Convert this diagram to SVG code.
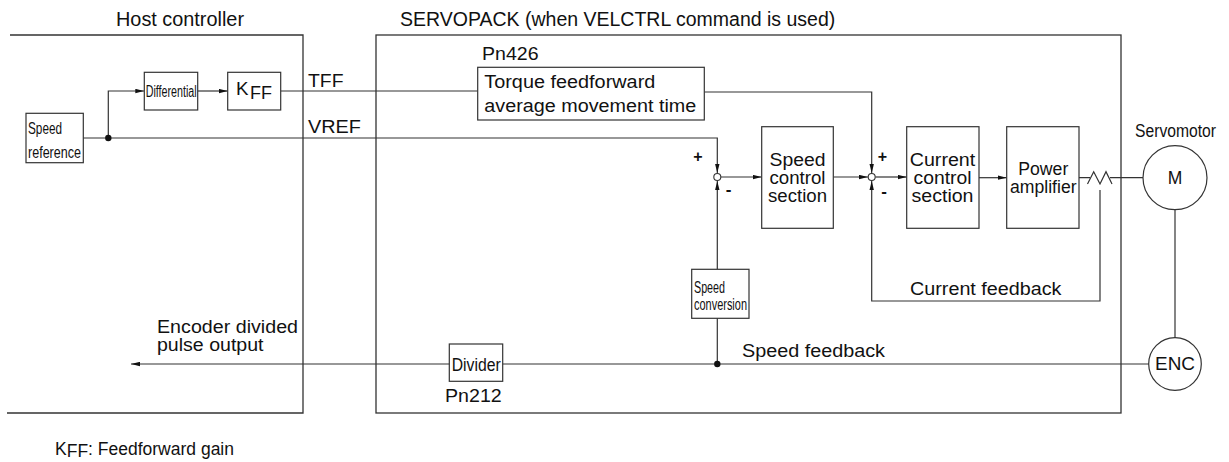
<svg xmlns="http://www.w3.org/2000/svg" width="1229" height="462" viewBox="0 0 1229 462">
<style>
.ln{fill:none;stroke:#333;stroke-width:1.2}
.bx{fill:#fff;stroke:#333;stroke-width:1.2}
.fr{fill:none;stroke:#333;stroke-width:1.3}
.jn{fill:#fff;stroke:#333;stroke-width:1.1}
.dot{fill:#111}
text{font-family:"Liberation Sans",Arial,sans-serif;fill:#111}
.m{font-size:17.5px}
.ti{font-size:19.5px}
.c{font-size:17px}
</style>
<defs>
<marker id="ah" markerWidth="9" markerHeight="5" refX="9" refY="2.5" orient="auto" markerUnits="userSpaceOnUse">
<path d="M0,0.3 L9,2.5 L0,4.7 z" fill="#111"/>
</marker>
</defs>

<g id="frames">
<path class="fr" d="M10,35 H303 V413 H7"/>
<rect class="fr" x="376" y="35" width="745" height="378"/>
<text class="ti" x="116" y="26" textLength="128" lengthAdjust="spacingAndGlyphs">Host controller</text>
<text class="ti" x="400" y="26">SERVOPACK (when VELCTRL command is used)</text>
</g>

<g id="connectors">
<path class="ln" d="M83,138 H717.3 V173" marker-end="url(#ah)"/>
<path class="ln" d="M108.3,138 V91 H144.3" marker-end="url(#ah)"/>
<path class="ln" d="M197.7,91 H227.7" marker-end="url(#ah)"/>
<path class="ln" d="M280.7,91 H477.7"/>
<path class="ln" d="M704.3,92 H871.7 V173" marker-end="url(#ah)"/>
<path class="ln" d="M721,177 H761.7" marker-end="url(#ah)"/>
<path class="ln" d="M833.3,177 H868" marker-end="url(#ah)"/>
<path class="ln" d="M875.4,177 H906.7" marker-end="url(#ah)"/>
<path class="ln" d="M979,177.7 H1006.7" marker-end="url(#ah)"/>
<path class="ln" d="M1079,177.7 H1090 M1087.5,184 L1093.7,171.7 L1100,184 L1106,171.7 L1112,184 M1110,177.7 H1143"/>
<path class="ln" d="M1100,190 V301 H871.7 V181" marker-end="url(#ah)"/>
<path class="ln" d="M1175,209.7 V338"/>
<path class="ln" d="M1149,364 H131" marker-end="url(#ah)"/>
<path class="ln" d="M717.3,364 V318"/>
<path class="ln" d="M717.3,269 V181" marker-end="url(#ah)"/>
<circle class="dot" cx="108.3" cy="138" r="3.2"/>
<circle class="dot" cx="717.3" cy="364" r="3.2"/>
<text class="m" x="308" y="87" textLength="35.5" lengthAdjust="spacingAndGlyphs">TFF</text>
<text class="m" x="308" y="133" textLength="53" lengthAdjust="spacingAndGlyphs">VREF</text>
<text class="m" x="910" y="295" textLength="151.5" lengthAdjust="spacingAndGlyphs">Current feedback</text>
<text class="m" x="742" y="357" textLength="143" lengthAdjust="spacingAndGlyphs">Speed feedback</text>
<text class="m" x="157" y="333.3" textLength="141" lengthAdjust="spacingAndGlyphs">Encoder divided</text>
<text class="m" x="157" y="351" textLength="106.5" lengthAdjust="spacingAndGlyphs">pulse output</text>
</g>

<g id="junction1">
<circle class="jn" cx="717.3" cy="177" r="3.5"/>
<text x="698" y="162" font-size="16" text-anchor="middle" font-weight="bold">+</text>
<text x="728.5" y="195" font-size="17" text-anchor="middle" font-weight="bold">-</text>
</g>
<g id="junction2">
<circle class="jn" cx="871.7" cy="177" r="3.5"/>
<text x="882.5" y="162" font-size="16" text-anchor="middle" font-weight="bold">+</text>
<text x="884" y="197" font-size="17" text-anchor="middle" font-weight="bold">-</text>
</g>

<g id="speed-reference">
<rect class="bx" x="26" y="113.3" width="57.3" height="49.4"/>
<text class="c" x="28" y="134" textLength="34" lengthAdjust="spacingAndGlyphs">Speed</text>
<text class="c" x="28" y="158" textLength="53" lengthAdjust="spacingAndGlyphs">reference</text>
</g>

<g id="differential">
<rect class="bx" x="144.3" y="72.3" width="53.4" height="37.7"/>
<text x="145.7" y="96.5" font-size="16" textLength="51" lengthAdjust="spacingAndGlyphs">Differential</text>
</g>

<g id="kff">
<rect class="bx" x="227.7" y="72.3" width="53" height="37.7"/>
<text x="236" y="95" font-size="18.5" textLength="12.5" lengthAdjust="spacingAndGlyphs">K</text>
<text x="250" y="99.3" font-size="17.5" textLength="22" lengthAdjust="spacingAndGlyphs">FF</text>
</g>

<g id="torque-ff">
<text class="m" x="482" y="59.5" textLength="56.5" lengthAdjust="spacingAndGlyphs">Pn426</text>
<rect class="bx" x="477.7" y="67.3" width="226.6" height="52.7"/>
<text class="m" x="484.3" y="88.3" textLength="171" lengthAdjust="spacingAndGlyphs">Torque feedforward</text>
<text class="m" x="484.3" y="111.5" textLength="212" lengthAdjust="spacingAndGlyphs">average movement time</text>
</g>

<g id="speed-control">
<rect class="bx" x="761.7" y="126.7" width="71.6" height="101.6"/>
<text class="m" x="797.5" y="165.7" text-anchor="middle" textLength="56" lengthAdjust="spacingAndGlyphs">Speed</text>
<text class="m" x="797.5" y="183.5" text-anchor="middle" textLength="56" lengthAdjust="spacingAndGlyphs">control</text>
<text class="m" x="797.5" y="201.7" text-anchor="middle" textLength="59" lengthAdjust="spacingAndGlyphs">section</text>
</g>

<g id="current-control">
<rect class="bx" x="906.7" y="126.7" width="72.3" height="101.6"/>
<text class="m" x="942.5" y="165.7" text-anchor="middle" textLength="65.5" lengthAdjust="spacingAndGlyphs">Current</text>
<text class="m" x="942.5" y="183.5" text-anchor="middle" textLength="58" lengthAdjust="spacingAndGlyphs">control</text>
<text class="m" x="942.5" y="201.7" text-anchor="middle" textLength="62" lengthAdjust="spacingAndGlyphs">section</text>
</g>

<g id="power-amplifier">
<rect class="bx" x="1006.7" y="126.7" width="72.3" height="101.6"/>
<text class="m" x="1043.3" y="175" text-anchor="middle" textLength="50" lengthAdjust="spacingAndGlyphs">Power</text>
<text class="m" x="1043.3" y="193" text-anchor="middle" textLength="66.5" lengthAdjust="spacingAndGlyphs">amplifier</text>
</g>

<g id="servomotor">
<text x="1175.5" y="136.7" font-size="18" text-anchor="middle" textLength="81" lengthAdjust="spacingAndGlyphs">Servomotor</text>
<circle class="bx" cx="1175" cy="177.7" r="32"/>
<text class="m" x="1175" y="184.2" text-anchor="middle">M</text>
</g>

<g id="encoder">
<circle class="bx" cx="1175" cy="364" r="26.3"/>
<text x="1175" y="370" font-size="17.5" text-anchor="middle" textLength="40" lengthAdjust="spacingAndGlyphs">ENC</text>
</g>

<g id="speed-conversion">
<rect class="bx" x="691.7" y="269.3" width="57.3" height="49"/>
<text x="694" y="293" font-size="16" textLength="31" lengthAdjust="spacingAndGlyphs">Speed</text>
<text x="694" y="309.5" font-size="16" textLength="53" lengthAdjust="spacingAndGlyphs">conversion</text>
</g>

<g id="divider">
<rect class="bx" x="449.3" y="344" width="53.4" height="37.3"/>
<text x="451.7" y="370.5" font-size="18" textLength="49" lengthAdjust="spacingAndGlyphs">Divider</text>
<text class="m" x="445" y="401.7" textLength="56.7" lengthAdjust="spacingAndGlyphs">Pn212</text>
</g>

<g id="legend">
<text class="m" x="55" y="455"><tspan>K</tspan><tspan dy="1.7">FF</tspan><tspan dy="-1.7">: Feedforward gain</tspan></text>
</g>
</svg>
